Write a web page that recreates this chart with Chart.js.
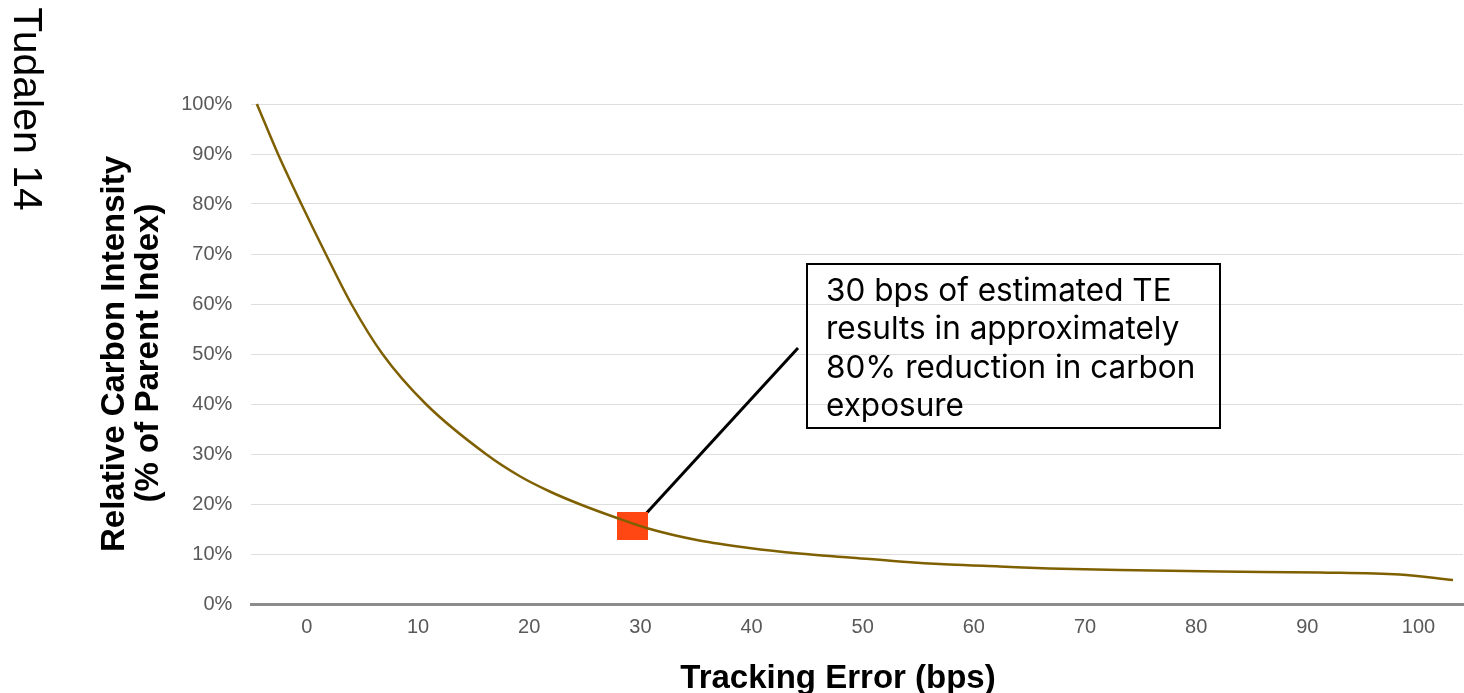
<!DOCTYPE html>
<html>
<head>
<meta charset="utf-8">
<script src="https://cdn.jsdelivr.net/npm/chart.js@4.4.1/dist/chart.umd.min.js"></script>
<style>
  body { margin: 0; background: #fff; }
  #wrap { width: 1464px; height: 693px; }
</style>
</head>
<body>
<div id="wrap"><canvas id="myChart" width="1464" height="693"></canvas></div>
<script>
// tracking error (bps) vs relative carbon intensity (% of parent index)
const trackingError = [-4.5, -2.6, -0.5, 1.7, 4.0, 6.8, 10.7, 16.1, 19.2, 21.85, 24.5, 27.9, 30.7, 35.3, 39.8, 44.3, 48.8, 53.3, 57.8, 62.3, 66.8, 73.1, 82.1, 91.1, 98.3, 103.1];
const carbonIntensity = [100, 90, 80, 70, 60, 50, 40, 30, 25.5, 22.5, 20, 17.2, 15.1, 12.7, 11.2, 10.1, 9.3, 8.5, 7.9, 7.5, 7.1, 6.8, 6.5, 6.3, 5.9, 4.8];
const markerTE = [29.3];
const markerCI = [15.6];
const xTicks = [0, 10, 20, 30, 40, 50, 60, 70, 80, 90, 100];
const yTicks = [0, 10, 20, 30, 40, 50, 60, 70, 80, 90, 100];

const noteLines = ["30 bps of estimated TE", "results in approximately", "80% reduction in carbon", "exposure"];
const xTitle = "Tracking Error (bps)";
const yTitle = ["Relative Carbon Intensity", "(% of Parent Index)"];
const pageLabel = "Tudalen 14";

let curve = [];
for (let i = 0; i < trackingError.length; i++) {
  curve.push({ x: trackingError[i], y: carbonIntensity[i] });
}
let marker = markerTE.map(function (v, i) { return { x: v, y: markerCI[i] }; });

// orange block used as the marker
const sq = document.createElement("canvas");
sq.width = 31; sq.height = 28;
const sctx = sq.getContext("2d");
sctx.fillStyle = "#FF4713";
sctx.fillRect(0, 0, 31, 28);

const extras = {
  id: "extras",
  beforeDatasetsDraw(chart) {
    const ctx = chart.ctx;
    const p = chart.getDatasetMeta(1).data[0];
    ctx.save();
    ctx.strokeStyle = "#000";
    ctx.lineWidth = 3;
    ctx.beginPath();
    ctx.moveTo(p.x + 14, p.y - 13);
    ctx.lineTo(798, 348);
    ctx.stroke();
    ctx.restore();
  },
  afterDraw(chart) {
    const ctx = chart.ctx;
    ctx.save();
    // note box
    ctx.strokeStyle = "#000";
    ctx.lineWidth = 2;
    ctx.strokeRect(807, 264, 413, 164);
    ctx.fillStyle = "#000";
    ctx.font = "31.5px Inter";
    ctx.textAlign = "left";
    ctx.textBaseline = "alphabetic";
    noteLines.forEach(function (t, i) {
      ctx.fillText(t, 826, 301 + i * 38.3);
    });

    // x title
    ctx.font = "bold 33px 'Liberation Sans'";
    ctx.textAlign = "center";
    ctx.fillText(xTitle, 838, 688);

    // y title
    ctx.save();
    ctx.translate(124, 354);
    ctx.rotate(-Math.PI / 2);
    ctx.fillText(yTitle[0], 0, 0);
    ctx.restore();
    ctx.save();
    ctx.translate(158, 353);
    ctx.rotate(-Math.PI / 2);
    ctx.fillText(yTitle[1], 0, 0);
    ctx.restore();

    // page label
    ctx.translate(14, 109);
    ctx.rotate(Math.PI / 2);
    ctx.font = "41px 'Liberation Sans'";
    ctx.fillText(pageLabel, 0, 0);
    ctx.restore();
  }
};

const chartEl = document.getElementById("myChart");
new Chart(chartEl, {
  type: "scatter",
  data: {
    datasets: [{
      data: curve,
      showLine: true,
      borderColor: "#7F6000",
      borderWidth: 2.5,
      pointRadius: 0,
      pointHoverRadius: 0,
      cubicInterpolationMode: "monotone",
      clip: false
    }, {
      data: marker,
      pointStyle: sq,
      pointRadius: 1,
      pointHoverRadius: 1,
      borderWidth: 0,
      clip: false
    }]
  },
  plugins: [extras],
  options: {
    responsive: false,
    animation: false,
    devicePixelRatio: 1,
    layout: { padding: { top: 104, right: 0, left: 0, bottom: 0 } },
    plugins: { legend: { display: false }, tooltip: { enabled: false } },
    scales: {
      x: {
        type: "linear",
        min: -5,
        max: 104,
        afterFit: function (s) { s.height = 89; s.paddingLeft = 0; s.paddingRight = 0; },
        afterBuildTicks: function (s) { s.ticks = xTicks.map(function (v) { return { value: v }; }); },
        grid: { display: false, drawTicks: false },
        border: { color: "#8c8c8c", width: 3 },
        ticks: {
          padding: 11,
          color: "#595959",
          font: { family: "'Liberation Sans'", size: 20 }
        }
      },
      y: {
        min: 0,
        max: 100,
        afterFit: function (s) { s.width = 251.3; s.paddingTop = 0; s.paddingBottom = 0; },
        afterBuildTicks: function (s) { s.ticks = yTicks.map(function (v) { return { value: v }; }); },
        grid: { color: "#dedede", lineWidth: 1, drawTicks: false },
        border: { display: false },
        ticks: {
          padding: 19,
          color: "#595959",
          font: { family: "'Liberation Sans'", size: 20 },
          callback: function (v) { return v + "%"; }
        }
      }
    }
  }
});
</script>
</body>
</html>
